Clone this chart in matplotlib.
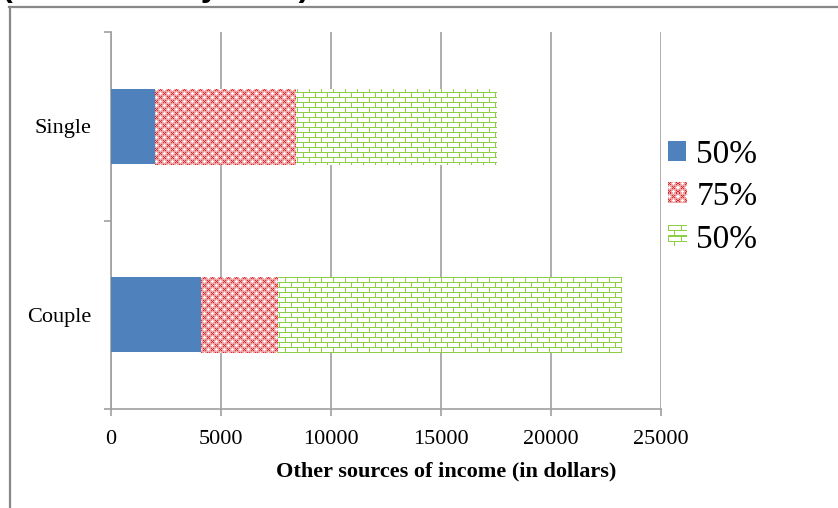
import numpy as np
import matplotlib
matplotlib.use('Agg')
import matplotlib.pyplot as plt
from matplotlib.colors import to_rgb
from matplotlib.patches import Patch
from matplotlib.lines import Line2D
from matplotlib.legend_handler import HandlerBase
from matplotlib.image import BboxImage
from matplotlib.transforms import Bbox, TransformedBbox

# Income thresholds per household type, one list per stacked segment
categories = ['Couple', 'Single']
blue_50 = [4100, 2000]
red_75 = [3500, 6400]
green_50 = [15600, 9100]
series_labels = ['50%', '75%', '50%']
xticks = [0, 5000, 10000, 15000, 20000, 25000]

plt.rcParams['font.family'] = 'Liberation Serif'

# Pixel tiles for the fill patterns (bricks and red checks)
BRICK_TILE = [
    "GGGGGGGGGGGG",
    "GWWWWWWWWWWW",
    "GWWWWWWWWWWW",
    "GWWWWWWWWWWW",
    "GWWWWWWWWWWW",
    "GGGGGGGGGGGG",
    "WWWWWWGWWWWW",
    "WWWWWWGWWWWW",
    "WWWWWWGWWWWW",
    "WWWWWWGWWWWW",
]
CHECK_TILE = [
    "RPRPPWPP",
    "PRPPWWWP",
    "RPRPPWPP",
    "PPPPPPPP",
    "PWPPRPRP",
    "WWWPPRPP",
    "PWPPRPRP",
    "PPPPPPPP",
]
TILE_COLOURS = {
    'G': '#8ccf45', 'W': '#ffffff',
    'R': '#d42a2e', 'P': '#f0a4a6',
}


def tile_array(rows):
    return np.array([[to_rgb(TILE_COLOURS[c]) for c in row] for row in rows])


def texture(rows, h, w):
    t = tile_array(rows)
    th, tw = t.shape[:2]
    return np.tile(t, (h // th + 1, w // tw + 1, 1))[:h, :w]


class TextureHandler(HandlerBase):
    def __init__(self, rows):
        super().__init__()
        self.rows = rows

    def create_artists(self, legend, orig_handle, xdescent, ydescent,
                       width, height, fontsize, trans):
        dpi = legend.get_figure(root=True).dpi
        w_px = int(round(width * dpi / 72))
        h_px = int(round(height * dpi / 72))
        box = TransformedBbox(Bbox.from_bounds(-xdescent, -ydescent, width, height), trans)
        im = BboxImage(box, interpolation='nearest')
        im.set_data(texture(self.rows, h_px, w_px))
        return [im]


fig = plt.figure(figsize=(8.38, 5.08), dpi=100)
ax_x0, ax_y0, ax_w, ax_h = 111, 99, 550, 377
ax = fig.add_axes([ax_x0 / 838, ax_y0 / 508, ax_w / 838, ax_h / 508])

xmax = xticks[-1]
y = np.arange(len(categories))
bar_h = 0.4

left = np.zeros(len(categories))
ax.barh(y, blue_50, bar_h, left=left, color='#4f81bd', zorder=3)
left += blue_50
red_bars = ax.barh(y, red_75, bar_h, left=left, color='white', zorder=3)
left += red_75
green_bars = ax.barh(y, green_50, bar_h, left=left, color='white', zorder=3)

# Paint the patterned segments with pixel textures clipped to each bar
for bars, rows in [(red_bars, CHECK_TILE), (green_bars, BRICK_TILE)]:
    tex = texture(rows, ax_h, ax_w)
    for bar in bars:
        im = fig.figimage(tex, xo=ax_x0, yo=ax_y0, origin='upper', zorder=2)
        im.set_clip_path(bar)

ax.set_xlim(0, xmax)
ax.set_ylim(-0.5, 1.5)
ax.set_xticks(xticks)
ax.set_xticklabels([str(t) for t in xticks], fontsize=16)
ax.set_yticks([-0.5, 0.5, 1.5])
ax.set_yticklabels([])
ax.set_yticks(y, minor=True)
ax.set_yticklabels(categories, minor=True, fontsize=16)
ax.tick_params(axis='y', which='minor', length=0, pad=14)
ax.tick_params(axis='y', which='major', length=5, color='#a0a0a0', width=1.2)
ax.tick_params(axis='x', length=5, color='#a0a0a0', width=1.2, pad=10)

ax.grid(axis='x', color='#a0a0a0', lw=1.2, zorder=0)
ax.set_axisbelow(True)
for side in ['top', 'right']:
    ax.spines[side].set_visible(False)
for side in ['left', 'bottom']:
    ax.spines[side].set_color('#a0a0a0')
    ax.spines[side].set_linewidth(1.2)

ax.set_xlabel('Other sources of income (in dollars)', fontsize=16, fontweight='bold')
ax.xaxis.set_label_coords((446 - 111) / 550, -52 / 377)

blue_handle = Patch(facecolor='#4f81bd')
red_handle = Patch(facecolor='#f0a4a6')
green_handle = Patch(facecolor='#92d050')
ax.legend([blue_handle, red_handle, green_handle], series_labels,
          handler_map={red_handle: TextureHandler(CHECK_TILE),
                       green_handle: TextureHandler(BRICK_TILE)},
          loc='center left', bbox_to_anchor=(668 / 838, 1 - 197 / 508),
          bbox_transform=fig.transFigure, frameon=False, fontsize=24,
          handlelength=0.55, handleheight=0.55, handletextpad=0.3,
          labelspacing=0.36, borderpad=0, borderaxespad=0)

# Outer frame of the slide and the clipped heading above it
fig.add_artist(Line2D([9 / 838, 1], [1 - 7 / 508] * 2, color='#888888', lw=1.6,
                      transform=fig.transFigure))
fig.add_artist(Line2D([10 / 838] * 2, [0, 1 - 7 / 508], color='#888888', lw=1.6,
                      transform=fig.transFigure))
fig.text(2 / 838, 1 + 4 / 508, '(as of January 2014)', family='Liberation Sans',
         fontweight='bold', fontsize=23, va='baseline')

fig.savefig('out.png', dpi=100)
